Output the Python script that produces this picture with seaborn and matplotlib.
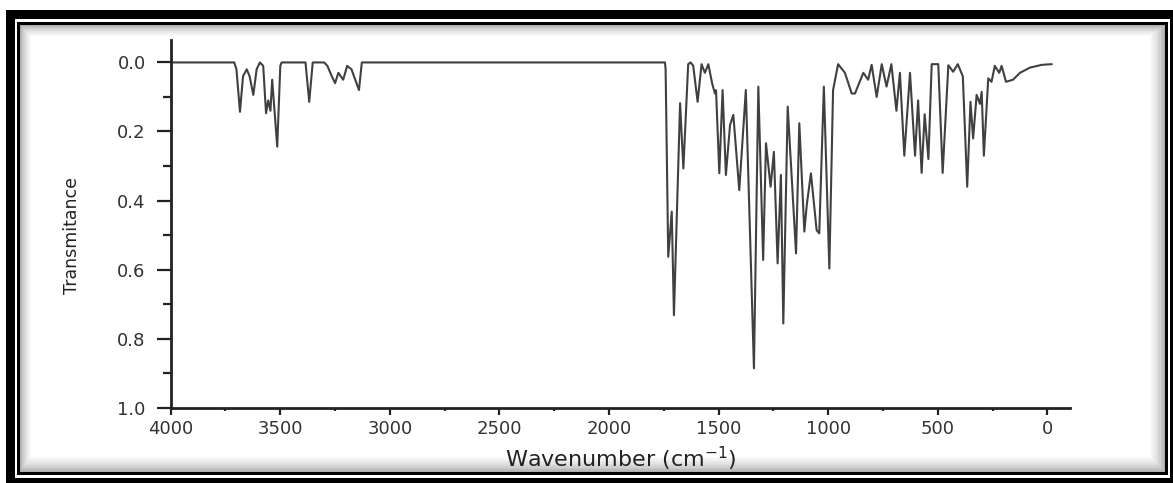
import matplotlib
matplotlib.use("Agg")
import matplotlib.pyplot as plt
from matplotlib.patches import Rectangle
from matplotlib.ticker import MultipleLocator
import numpy as np
import pandas as pd
import seaborn as sns

# ---- data ----
wavenumber = [
    4000, 3710, 3700, 3684, 3670, 3653, 3640, 3623, 3608, 3593, 3578, 3565,
    3555, 3545, 3537, 3514, 3500, 3494, 3385, 3368, 3352, 3300, 3285, 3265,
    3250, 3235, 3213, 3195, 3175, 3141, 3128,
    1745, 1742, 1730, 1714, 1704, 1676, 1661, 1639, 1628, 1616, 1596, 1578,
    1563, 1547, 1530, 1517, 1512, 1497, 1482, 1467, 1448, 1433, 1406, 1376,
    1339, 1319, 1297, 1284, 1263, 1248, 1231, 1216, 1205, 1185, 1147, 1132,
    1109, 1098, 1079, 1053, 1041, 1020, 995, 978, 955, 924, 893, 878, 840,
    818, 802, 779, 756, 734, 712, 689, 673, 653, 627, 604, 590, 574, 560,
    543, 528, 498, 478, 452, 430, 409, 386, 366, 351, 339, 323, 308, 300,
    290, 270, 255, 240, 220, 209, 189, 157, 125, 80, 26, -20,
]
transmitance = [
    0.0, 0.0, 0.02, 0.143, 0.04, 0.02, 0.04, 0.094, 0.02, 0.0, 0.01, 0.147,
    0.11, 0.14, 0.05, 0.244, 0.01, 0.0, 0.0, 0.114, 0.0, 0.0, 0.01, 0.04,
    0.06, 0.03, 0.05, 0.01, 0.02, 0.08, 0.0,
    0.0, 0.02, 0.563, 0.432, 0.732, 0.118, 0.307, 0.005, 0.0, 0.01, 0.114, 0.005,
    0.03, 0.005, 0.06, 0.09, 0.08, 0.321, 0.08, 0.326, 0.181, 0.152, 0.37, 0.08,
    0.886, 0.07, 0.572, 0.234, 0.36, 0.259, 0.582, 0.326, 0.756, 0.128, 0.553, 0.176,
    0.49, 0.413, 0.321, 0.486, 0.495, 0.07, 0.597, 0.08, 0.005, 0.03, 0.09, 0.09, 0.03,
    0.05, 0.007, 0.1, 0.005, 0.07, 0.005, 0.14, 0.03, 0.27, 0.03, 0.27, 0.11, 0.32, 0.15,
    0.28, 0.005, 0.005, 0.32, 0.008, 0.027, 0.005, 0.04, 0.36, 0.114, 0.22, 0.094, 0.12, 0.085,
    0.27, 0.046, 0.056, 0.01, 0.03, 0.01, 0.056, 0.05, 0.03, 0.015, 0.007, 0.005,
]
x_ticks = [4000, 3500, 3000, 2500, 2000, 1500, 1000, 500, 0]
y_ticks = [0.0, 0.2, 0.4, 0.6, 0.8, 1.0]

df = pd.DataFrame({"Wavenumber": wavenumber, "Transmitance": transmitance})

sns.set_theme(style="ticks")
plt.rcParams["font.family"] = ["DejaVu Sans"]

W, H = 1173, 483
fig = plt.figure(figsize=(W / 100, H / 100), dpi=100)
fig.patch.set_facecolor("white")


def rect(x0, y0, x1, y1, color):
    fig.patches.append(Rectangle((x0 / W, 1 - y1 / H), (x1 - x0) / W, (y1 - y0) / H,
                                 transform=fig.transFigure, facecolor=color,
                                 edgecolor="none", zorder=-10))


# decorative double frame with inner shadow
rect(6, 10, 1185, 495, "black")
rect(15, 19, 1170, 478, "white")
rect(17, 22, 1168, 475, "black")
N = 12
for i in range(N):
    g = 0.55 + 0.45 * ((i + 1) / N) ** 0.5
    rect(20 + i, 25 + i, 1165 - 1.4 * i, 472 - 1.4 * i, (g, g, g))
rect(20 + N, 25 + N, 1165 - 1.4 * N, 472 - 1.4 * N, "white")

ax = fig.add_axes([170.7 / W, (H - 407.7) / H, (1070 - 170.7) / W, (407.7 - 40) / H])
ax.set_facecolor("none")

sns.lineplot(data=df, x="Wavenumber", y="Transmitance", ax=ax, sort=False,
             estimator=None, color="#404040", linewidth=1.5)

ax.set_xlim(4000, -103)
ax.set_ylim(1.0, -0.065)
ax.set_xticks(x_ticks)
ax.set_yticks(y_ticks)
ax.set_xticklabels([str(v) for v in x_ticks])
ax.set_yticklabels([f"{v:.1f}" for v in y_ticks])
ax.xaxis.set_minor_locator(MultipleLocator(250))
ax.yaxis.set_minor_locator(MultipleLocator(0.1))

for s in ["top", "right"]:
    ax.spines[s].set_visible(False)
for s in ["left", "bottom"]:
    ax.spines[s].set_linewidth(2.0)
    ax.spines[s].set_color("#222222")

ax.tick_params(axis="x", which="major", direction="out", length=5, width=1.6,
               pad=3.5, labelsize=13, labelcolor="#333333", color="#222222")
ax.tick_params(axis="x", which="minor", direction="out", length=2.5, width=1.6,
               color="#222222")
ax.tick_params(axis="y", which="major", direction="out", length=10, width=1.6,
               pad=8, labelsize=13, labelcolor="#333333", color="#222222")
ax.tick_params(axis="y", which="minor", direction="out", length=5.8, width=1.6,
               color="#222222")

ax.set_xlabel(r"Wavenumber (cm$^{\mathregular{-1}}$)", fontsize=16, color="#222222")
ax.set_ylabel("Transmitance", fontsize=12.5, color="#222222")
ax.xaxis.set_label_coords(0.5, -0.10)
ax.yaxis.set_label_coords(-0.10, 0.467)

fig.savefig("out.png", dpi=100)
